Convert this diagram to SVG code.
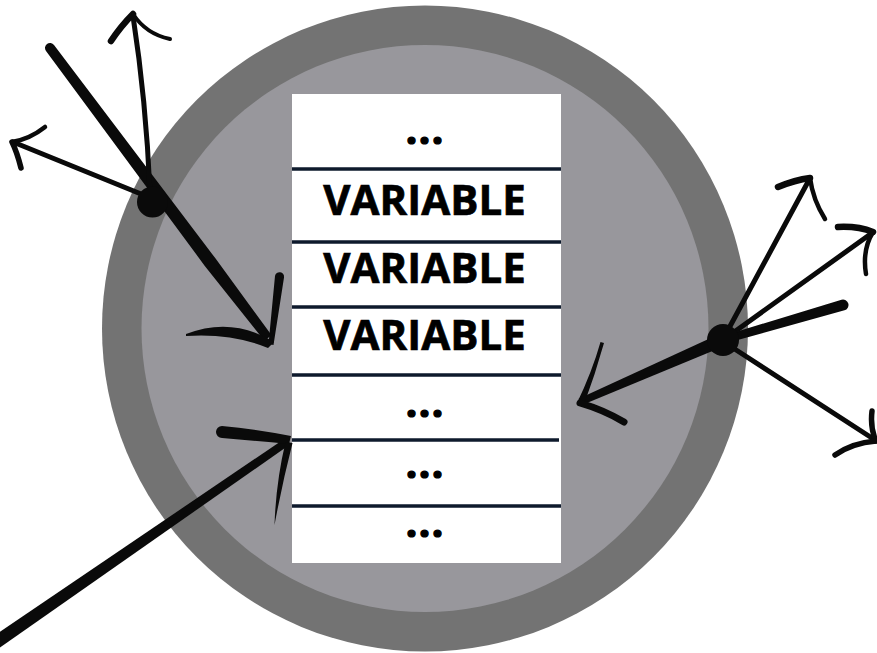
<svg xmlns="http://www.w3.org/2000/svg" width="877" height="653" viewBox="0 0 877 653">
  <style>
    .ring-outer { fill: #737373; }
    .ring-inner { fill: #98979c; }
    .cell { fill: #ffffff; }
    .rule { stroke: #0e1a2c; stroke-width: 3.5; }
    .label { font-family: "Open Sans", "Liberation Sans", sans-serif; font-weight: 700; font-size: 42px; fill: #000; text-anchor: middle; stroke: #000; stroke-width: 0.7; }
    .dots { stroke-width: 1.2; letter-spacing: 1px; }
    .ink { fill: #0a0a0a; }
    .pen { fill: none; stroke: #0a0a0a; stroke-linecap: round; stroke-linejoin: round; }
    .thin { stroke-width: 5; }
  </style>

  <!-- the enclosing ring -->
  <g id="ring">
    <circle class="ring-outer" cx="425" cy="328.5" r="323"/>
    <circle class="ring-inner" cx="425" cy="328.5" r="283.5"/>
  </g>

  <!-- the stack of slots -->
  <g id="stack">
    <rect class="cell" x="292" y="94" width="269" height="469"/>
    <line class="rule" x1="292" y1="169" x2="561" y2="169"/>
    <line class="rule" x1="292" y1="242" x2="561" y2="242"/>
    <line class="rule" x1="292" y1="307" x2="561" y2="307"/>
    <line class="rule" x1="292" y1="375" x2="561" y2="375"/>
    <line class="rule" x1="292" y1="440" x2="559" y2="440"/>
    <line class="rule" x1="292" y1="506" x2="561" y2="506"/>
    <text class="label dots" x="425" y="144">...</text>
    <text class="label" x="424.5" y="215">VARIABLE</text>
    <text class="label" x="424.5" y="283">VARIABLE</text>
    <text class="label" x="424.5" y="350">VARIABLE</text>
    <text class="label dots" x="425" y="417">...</text>
    <text class="label dots" x="425" y="478">...</text>
    <text class="label dots" x="425" y="537">...</text>
  </g>

  <!-- brush-drawn connectors -->
  <g id="connectors">
    <!-- left: long stroke into the stack -->
    <path class="ink" d="M46,51 A5,5 0 0 1 54,45 L215.2,258.1 L271.6,335.3 L264.4,340.7 L204.8,265.9 Z"/>
    <path class="ink" d="M275,276 A4.5,4.5 0 0 1 284,277.5 L273.5,345 L268.5,344 Z"/>
    <path class="ink" d="M186,334 Q232,316 274,342 L268,348 Q232,333 186,336 Z"/>
    <!-- left: thin strokes out of the ring -->
    <path class="pen thin" d="M150,192 Q146,100 133,16"/>
    <path class="pen" stroke-width="6.5" d="M111,41 Q121,26 133,14"/>
    <path class="pen" stroke-width="4" d="M133,14 Q146,34 170,39"/>
    <path class="pen thin" d="M146,196 L13,142"/>
    <path class="pen" stroke-width="4.5" d="M12,142 Q30,139 45,127"/>
    <path class="pen" stroke-width="5.5" d="M12,142 Q17,152 21,168"/>

    <!-- right: stroke back into the stack -->
    <path class="ink" d="M719.4,334 L578.6,398.8 L581.4,405.2 L724.6,346 Z"/>
    <path class="ink" d="M600.5,342 Q592,372 577,403 L584,404.5 Q595,375 604,343 Z"/>
    <path class="pen" stroke-width="7" d="M580,403 Q604,410 624,422"/>
    <!-- right: short tapered stub -->
    <path class="ink" d="M721.9,336.2 L841.5,299.7 A5.5,5.5 0 0 1 844.5,310.3 L724.1,343.8 Z"/>
    <!-- right: thin strokes out of the ring -->
    <path class="pen thin" d="M728,330 L809,180"/>
    <path class="pen" stroke-width="6.5" d="M778,187 Q795,180 810,178"/>
    <path class="pen" stroke-width="4.5" d="M810,178 Q813,200 825,219"/>
    <path class="pen thin" d="M730,335 L872,233"/>
    <path class="pen" stroke-width="6.5" d="M838,227 Q858,226 873,232"/>
    <path class="pen" stroke-width="4.5" d="M873,232 Q862,250 866,274"/>
    <path class="pen thin" d="M730,346 L875,440"/>
    <path class="pen" stroke-width="5.5" d="M872,411 Q870,428 876,441"/>
    <path class="pen" stroke-width="5.5" d="M876,441 Q852,443 835,455"/>

    <!-- lower left: long stroke into the stack -->
    <path class="ink" d="M-8.7,637.7 L286,437.7 L290.3,444.3 L-1.3,648.3 Z"/>
    <path class="ink" d="M222,426 Q256,429 291,436 L289,444 Q256,441 222,438 A6,6 0 0 1 222,426 Z"/>
    <path class="ink" d="M285.5,442 Q276,482 274.5,525 Q282.5,482 292.5,443 Z"/>
  </g>

  <!-- junction dots -->
  <g id="node-left">
    <circle class="ink" cx="152.5" cy="202" r="15.5"/>
  </g>
  <g id="node-right">
    <circle class="ink" cx="723" cy="340" r="16"/>
  </g>
</svg>
